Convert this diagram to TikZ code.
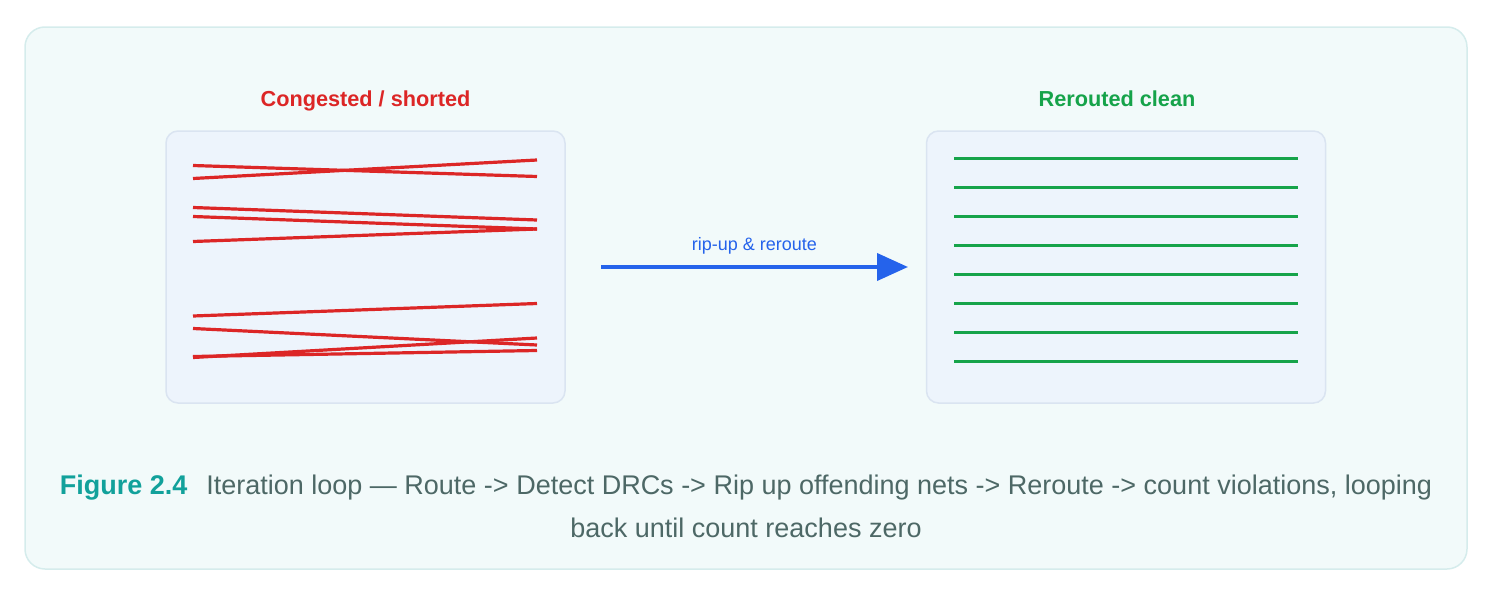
\documentclass[tikz,border=0pt]{standalone}
\usepackage{fontspec}
\setmainfont{Liberation Sans}
\usetikzlibrary{arrows.meta}
\definecolor{outerfill}{HTML}{F2FAFA}
\definecolor{outerdraw}{HTML}{D5ECEC}
\definecolor{boxfill}{HTML}{EDF4FC}
\definecolor{boxdraw}{HTML}{DAE4F1}
\definecolor{badred}{HTML}{DC2626}
\definecolor{goodgreen}{HTML}{16A34A}
\definecolor{arrowblue}{HTML}{2563EB}
\definecolor{capteal}{HTML}{12A19B}
\definecolor{capgray}{HTML}{4D6866}
\begin{document}
\begin{tikzpicture}[x=1pt,y=-1pt,
  panel/.style={draw=boxdraw,fill=boxfill,line width=1.5pt,rounded corners=12pt,minimum width=399pt,minimum height=272pt,inner sep=0pt},
  paneltitle/.style={font=\fontsize{21.7}{26}\selectfont\bfseries,anchor=base,inner sep=0pt},
  redwire/.style={draw=badred,line width=3.2pt},
  greenwire/.style={draw=goodgreen,line width=3pt},
  flow/.style={draw=arrowblue,line width=4pt,-{Triangle[length=31pt,width=27pt]}},
  caption/.style={font=\fontsize{27}{32}\selectfont,text=capgray,anchor=base,inner sep=0pt}]
\useasboundingbox (0,0) rectangle (1494,597);
\draw[draw=outerdraw,fill=outerfill,line width=1.5pt,rounded corners=20pt] (25,27) rectangle (1467,569);
\node[panel] (left) at (365.5,267) {};
\node[panel] (right) at (1126,267) {};
\node[paneltitle,text=badred] (lt) at (365.5,106.5) {Congested / shorted};
\node[paneltitle,text=goodgreen] (rt) at (1117,106.5) {Rerouted clean};
% congested wires
\draw[redwire] (193,165.5) -- (537,176.5);
\draw[redwire] (193,178.5) -- (537,160);
\draw[redwire] (193,207.5) -- (537,220);
\draw[redwire] (193,216.5) -- (537,229);
\draw[redwire] (193,241.5) -- (537,229);
\draw[redwire] (193,316) -- (537,303.5);
\draw[redwire] (193,328.5) -- (537,345);
\draw[redwire] (193,357.5) -- (537,338);
\draw[redwire] (193,356.5) -- (537,350.5);
% clean wires
\foreach \yy in {158,187,216,245,274,303,332,361}
  \draw[greenwire] (954,\yy) -- (1298,\yy);
% arrow
\coordinate (a0) at (601,267);
\coordinate (a1) at (908,267);
\draw[flow] (a0) -- (a1) node[midway,above=11pt,font=\fontsize{18}{22}\selectfont,text=arrowblue,inner sep=0pt] (lab) {rip-up \& reroute};
% caption
\node[caption] (cap1) at (746,494) {{\bfseries\color{capteal}Figure 2.4}\hspace{0.7em}Iteration loop — Route -> Detect DRCs -> Rip up offending nets -> Reroute -> count violations, looping};
\node[caption] (cap2) at (746,537) {back until count reaches zero};
\end{tikzpicture}
\end{document}
